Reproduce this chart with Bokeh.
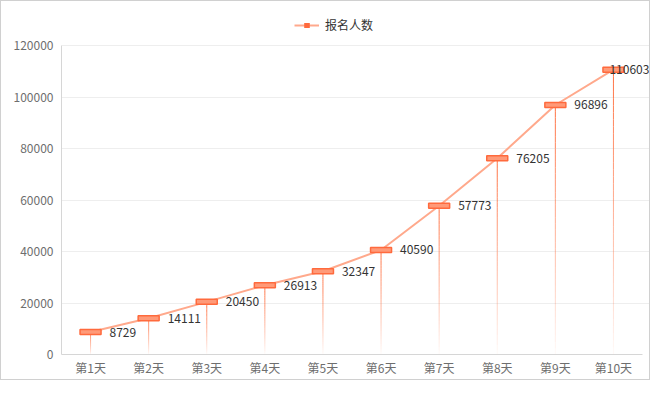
from bokeh.plotting import figure
from bokeh.models import (ColumnDataSource, Range1d, FixedTicker,
                          NumeralTickFormatter, Legend, LegendItem)
from bokeh.core.properties import value
from bokeh.embed import file_html
from bokeh.resources import INLINE

categories = ["第1天", "第2天", "第3天", "第4天", "第5天", "第6天", "第7天", "第8天", "第9天", "第10天"]
signups = [8729, 14111, 20450, 26913, 32347, 40590, 57773, 76205, 96896, 110603]
series_name = "报名人数"
y_max = 120000
y_step = 20000

FONT = "Noto Sans CJK SC"
LINE_COLOR = "#ffa98c"
MARK_LINE = "#ff6a3d"
MARK_FILL = "#ff9a78"
STEM_COLOR = "#ff6f3f"

W, H = 650, 380
LEFT, TOP_AXIS, BOTTOM = 60, 44, 353   # frame left, pixel of y_max, pixel of 0
RIGHT_AXIS = 641                        # pixel of last category band end
n = len(categories)
frame_h = BOTTOM
frame_w = W - LEFT
y_end = y_max * frame_h / (BOTTOM - TOP_AXIS)
x_end = n * frame_w / (RIGHT_AXIS - LEFT)

p = figure(width=W, height=H, x_range=Range1d(0, x_end), y_range=Range1d(0, y_end),
           output_backend="svg", toolbar_location=None,
           min_border_left=LEFT, min_border_right=0, min_border_top=0,
           min_border_bottom=H - BOTTOM)
p.outline_line_color = None
p.background_fill_color = "white"
p.border_fill_color = "white"
p.styles = {"border": "1px solid #d0d0d0"}

xpos = [i + 0.5 for i in range(n)]

# gradient stems
K = 40
xs, y0s, y1s, alphas = [], [], [], []
for xc, v in zip(xpos, signups):
    for k in range(K):
        xs.append(xc)
        y0s.append(v * k / K)
        y1s.append(v * (k + 1) / K)
        alphas.append(0.02 + 0.98 * ((k + 0.5) / K) ** 0.9)
stem_src = ColumnDataSource(dict(x=xs, y0=y0s, y1=y1s, a=alphas))
p.segment(x0="x", y0="y0", x1="x", y1="y1", source=stem_src, line_color=STEM_COLOR,
          line_alpha="a", line_width=1)

offsets = [19 if i < n - 1 else -4 for i in range(n)]
src = ColumnDataSource(dict(x=xpos, y=signups, lbl=[str(v) for v in signups], off=offsets))

line_r = p.line(x="x", y="y", source=src, line_color=LINE_COLOR, line_width=2)
p.rect(x="x", y="y", width=21, height=5, width_units="screen", height_units="screen",
       source=src, fill_color=MARK_FILL, line_color=MARK_LINE, line_width=1.5)
p.text(x="x", y="y", text="lbl", source=src, x_offset="off", text_align="left",
       text_baseline="middle", text_font=value(FONT), text_font_size="12px", text_color="#333333")

# legend-only marker renderer
leg_src = ColumnDataSource(dict(x=[float("nan")], y=[float("nan")]))
dash_r = p.scatter(x="x", y="y", source=leg_src, marker="dash", size=11,
                   line_color=MARK_LINE, line_width=5)

legend = Legend(items=[LegendItem(label=series_name, renderers=[line_r, dash_r])],
                location=(233, 321), orientation="horizontal",
                padding=0, margin=0, spacing=0, glyph_width=25, glyph_height=14,
                label_standoff=6, border_line_color=None, background_fill_alpha=0,
                label_text_font=FONT, label_text_font_size="12px", label_text_color="#333333")
p.add_layout(legend, "center")

yt = list(range(0, y_max + 1, y_step))
p.ygrid.grid_line_color = "#eeeeee"
p.ygrid.ticker = FixedTicker(ticks=yt)
p.xgrid.grid_line_color = None

p.yaxis.ticker = FixedTicker(ticks=yt)
p.yaxis.bounds = (0, y_max)
p.yaxis.formatter = NumeralTickFormatter(format="0")
p.xaxis.ticker = FixedTicker(ticks=xpos)
p.xaxis.bounds = (0, n)
p.xaxis.major_label_overrides = {x: c for x, c in zip(xpos, categories)}
for ax in (p.xaxis, p.yaxis):
    ax.axis_line_color = "#d6d6d6"
    ax.major_tick_line_color = None
    ax.minor_tick_line_color = None
    ax.major_tick_out = 0
    ax.major_tick_in = 0
    ax.minor_tick_out = 0
    ax.minor_tick_in = 0
    ax.major_label_text_font = FONT
    ax.major_label_text_font_size = "12px"
    ax.major_label_text_color = "#6e6e6e"
p.yaxis.major_label_standoff = 8
p.xaxis.major_label_standoff = 4

open("out.html", "w").write(file_html(p, INLINE))
